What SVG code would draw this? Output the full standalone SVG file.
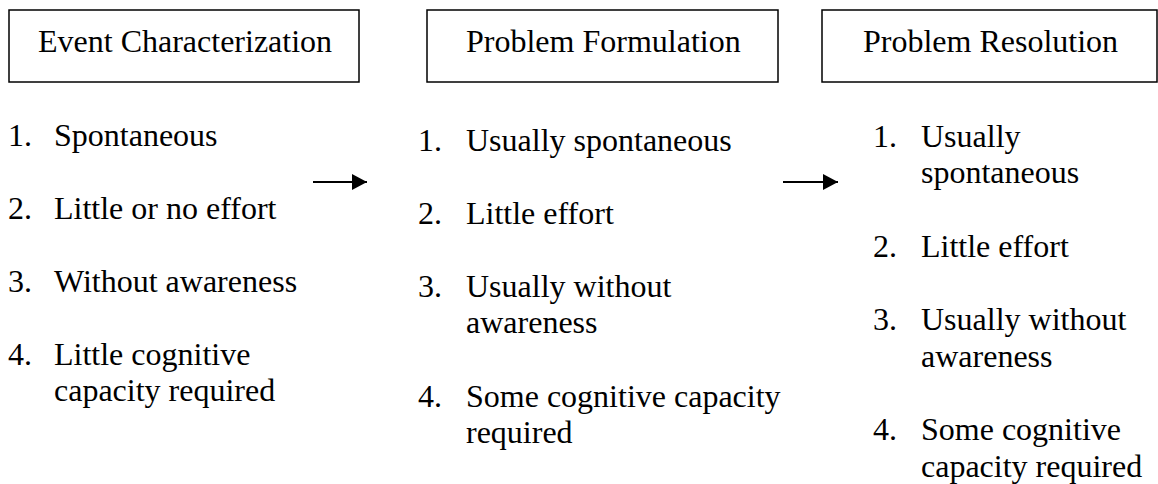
<svg xmlns="http://www.w3.org/2000/svg" width="1158" height="484" viewBox="0 0 1158 484">
<style>
  .box { fill: #fff; stroke: #000; stroke-width: 1.5; }
  .t { font-family: "Liberation Serif", "Times New Roman", serif; font-size: 32px; fill: #000; }
  .conn { stroke: #000; stroke-width: 2; fill: none; }
</style>
<defs>
  <marker id="ah" markerWidth="16" markerHeight="16" refX="15" refY="8" orient="auto" markerUnits="userSpaceOnUse">
    <path d="M0,0 L15,8 L0,16 Z" fill="#000"/>
  </marker>
</defs>
<rect width="1158" height="484" fill="#fff"/>
<g id="event-characterization">
  <rect class="box" x="9" y="10" width="350" height="72"/>
  <text class="t" x="38" y="52">Event Characterization</text>
  <text class="t" x="8" y="146">1.</text><text class="t" x="54" y="146">Spontaneous</text>
  <text class="t" x="8" y="219">2.</text><text class="t" x="54" y="219">Little or no effort</text>
  <text class="t" x="8" y="292">3.</text><text class="t" x="54" y="292">Without awareness</text>
  <text class="t" x="8" y="365">4.</text><text class="t" x="54" y="365">Little cognitive</text>
  <text class="t" x="54" y="401">capacity required</text>
</g>
<g id="problem-formulation">
  <rect class="box" x="427" y="10" width="351" height="72"/>
  <text class="t" x="466" y="52">Problem Formulation</text>
  <text class="t" x="418" y="151">1.</text><text class="t" x="466" y="151">Usually spontaneous</text>
  <text class="t" x="418" y="224">2.</text><text class="t" x="466" y="224">Little effort</text>
  <text class="t" x="418" y="297">3.</text><text class="t" x="466" y="297">Usually without</text>
  <text class="t" x="466" y="333">awareness</text>
  <text class="t" x="418" y="407">4.</text><text class="t" x="466" y="407">Some cognitive capacity</text>
  <text class="t" x="466" y="443">required</text>
</g>
<g id="problem-resolution">
  <rect class="box" x="822" y="10" width="335" height="72"/>
  <text class="t" x="863" y="52">Problem Resolution</text>
  <text class="t" x="873" y="147">1.</text><text class="t" x="921" y="147">Usually</text>
  <text class="t" x="921" y="183">spontaneous</text>
  <text class="t" x="873" y="257">2.</text><text class="t" x="921" y="257">Little effort</text>
  <text class="t" x="873" y="330">3.</text><text class="t" x="921" y="330">Usually without</text>
  <text class="t" x="921" y="367">awareness</text>
  <text class="t" x="873" y="440">4.</text><text class="t" x="921" y="440">Some cognitive</text>
  <text class="t" x="921" y="477">capacity required</text>
</g>
<g id="connectors">
  <line class="conn" x1="313" y1="182" x2="367" y2="182" marker-end="url(#ah)"/>
  <line class="conn" x1="783" y1="182" x2="838" y2="182" marker-end="url(#ah)"/>
</g>
</svg>
